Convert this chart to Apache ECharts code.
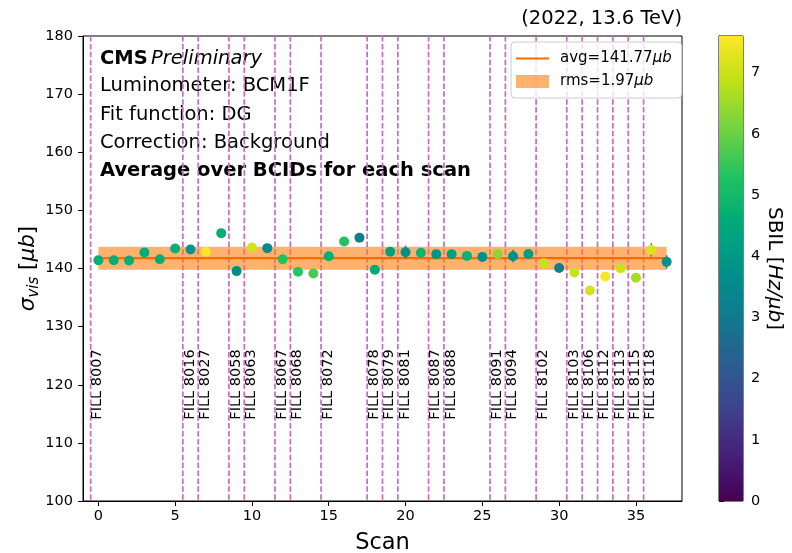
<!DOCTYPE html>
<html>
<head>
<meta charset="utf-8">
<script src="https://cdn.jsdelivr.net/npm/echarts@6/dist/echarts.min.js"></script>
<style>
  html, body { margin: 0; padding: 0; background: #ffffff; }
  #chart { width: 792px; height: 553px; }
</style>
</head>
<body>
<div id="chart"></div>
<script>
// Per-scan visible cross-section (BCM1F, DG fit, background corrected), averaged over BCIDs
const scanIndex = [0, 1, 2, 3, 4, 5, 6, 7, 8, 9,
  10, 11, 12, 13, 14, 15, 16, 17, 18, 19,
  20, 21, 22, 23, 24, 25, 26, 27, 28, 29,
  30, 31, 32, 33, 34, 35, 36, 37];
const sigmaVis = [141.43, 141.43, 141.38, 142.76, 141.60, 143.44, 143.27, 142.90, 146.08, 139.55,
  143.60, 143.50, 141.60, 139.43, 139.14, 142.12, 144.64, 145.30, 139.80, 142.90,
  142.80, 142.70, 142.47, 142.47, 142.17, 142.00, 142.50, 142.12, 142.50, 140.90,
  140.10, 139.30, 136.20, 138.63, 140.06, 138.40, 143.20, 141.14];
const sigmaErr = [0.5, 0.5, 0.5, 0.5, 0.5, 0.5, 0.5, 0.5, 0.5, 0.5,
  0.5, 0.5, 0.5, 0.5, 0.5, 0.5, 0.5, 0.5, 0.5, 0.5,
  1.15, 0.5, 0.5, 0.5, 0.5, 0.5, 0.5, 1.1, 0.5, 0.5,
  0.5, 0.5, 0.5, 0.5, 0.5, 0.5, 1.15, 1.15];
// Single-bunch instantaneous luminosity [Hz/ub]
const sbil = [4.7, 4.7, 4.7, 4.6, 4.7, 4.7, 3.9, 7.6, 4.7, 3.6,
  7.1, 3.6, 5.3, 5.4, 5.7, 4.7, 5.3, 3.2, 4.6, 4.2,
  3.8, 4.8, 3.9, 4.3, 4.8, 3.7, 6.3, 3.8, 4.1, 7.0,
  3.2, 7.0, 7.1, 7.5, 7.0, 6.6, 7.2, 3.8];

// Boundaries between LHC fills and the fill numbers
const fillBoundaries = [-0.5, 5.5, 6.5, 8.5, 9.5, 11.5, 12.5, 14.5, 17.5, 18.5, 19.5,
  21.5, 22.5, 25.5, 26.5, 28.5, 30.5, 31.5, 32.5, 33.5, 34.5, 35.5];
const fillNames = ['FILL 8007', 'FILL 8016', 'FILL 8027', 'FILL 8058', 'FILL 8063', 'FILL 8067',
  'FILL 8068', 'FILL 8072', 'FILL 8078', 'FILL 8079', 'FILL 8081', 'FILL 8087', 'FILL 8088',
  'FILL 8091', 'FILL 8094', 'FILL 8102', 'FILL 8103', 'FILL 8106', 'FILL 8112', 'FILL 8113',
  'FILL 8115', 'FILL 8118'];

// Summary statistics
const avgSigma = 141.77;
const rmsSigma = 1.97;
const bandRange = [0, 37];

// Axis ticks
const xTickValues = [0, 5, 10, 15, 20, 25, 30, 35];
const cbTickValues = [0, 1, 2, 3, 4, 5, 6, 7];
const cbMax = 7.6;

// Colour map for SBIL
const viridis = ['#440154', '#47207a', '#3d438c', '#2a5f90', '#107a8f', '#00928a',
  '#00aa78', '#22c260', '#72d341', '#bde017', '#fde725'];

const FONT = 'DejaVu Sans';
const X_MIN = -1, X_MAX = 38, Y_MIN = 100, Y_MAX = 180;
const FILL_LABEL_Y = 114;

const chart = echarts.init(document.getElementById('chart'), null, { renderer: 'canvas' });

const pointData = scanIndex.map((x, i) => [x, sigmaVis[i], sbil[i]]);
const errData = scanIndex.map((x, i) => [x, sigmaVis[i], sigmaErr[i]]);

const option = {
  animation: false,
  backgroundColor: '#ffffff',
  textStyle: { fontFamily: FONT, color: '#000' },
  title: {
    text: '(2022, 13.6 TeV)',
    right: 105,
    top: 4,
    textStyle: { fontFamily: FONT, fontSize: 19.5, fontWeight: 'normal', color: '#000' }
  },
  legend: {
    orient: 'vertical',
    left: 511,
    top: 42,
    padding: [9, 10, 9, 5],
    itemGap: 8,
    itemWidth: 33,
    itemHeight: 13,
    selectedMode: false,
    borderColor: '#cccccc',
    borderWidth: 1,
    borderRadius: 4,
    backgroundColor: 'rgba(255,255,255,0.8)',
    data: [
      { name: 'avg', icon: 'path://M0,0 L33,0 L33,2.2 L0,2.2 Z' },
      { name: 'rms', icon: 'rect' }
    ],
    formatter: function (name) {
      const v = name === 'avg' ? avgSigma : rmsSigma;
      return name + '=' + v.toFixed(2) + '{i|\u03bcb}';
    },
    textStyle: {
      fontFamily: FONT, fontSize: 15, color: '#000', padding: [0, 0, 0, 6],
      rich: { i: { fontFamily: FONT, fontSize: 15, fontStyle: 'italic', color: '#000' } }
    }
  },
  grid: [
    { left: 83, right: 110, top: 36, bottom: 52, outerBoundsMode: 'none', containLabel: false,
      show: true, borderColor: '#000', borderWidth: 1, backgroundColor: 'transparent' },
    { left: 719, width: 24, top: 36, bottom: 52, outerBoundsMode: 'none', containLabel: false,
      show: true, borderColor: '#000', borderWidth: 1, backgroundColor: 'transparent' }
  ],
  xAxis: [
    {
      type: 'value', gridIndex: 0, min: X_MIN, max: X_MAX,
      name: 'Scan', nameLocation: 'middle', nameGap: 31,
      nameTextStyle: { fontFamily: FONT, fontSize: 22.5, color: '#000' },
      axisLine: { show: true, onZero: false, lineStyle: { color: '#000', width: 1 } },
      axisTick: { show: true, inside: false, length: 5, customValues: xTickValues, lineStyle: { color: '#000' } },
      axisLabel: { show: true, customValues: xTickValues, fontFamily: FONT, fontSize: 14.5, color: '#000', margin: 8 },
      splitLine: { show: false }
    },
    { type: 'value', gridIndex: 1, min: 0, max: 1, show: false }
  ],
  yAxis: [
    {
      type: 'value', gridIndex: 0, min: Y_MIN, max: Y_MAX, interval: 10,
      name: '{i|\u03c3}{sub|vis} [{i|\u03bcb}]', nameLocation: 'middle', nameGap: 41, nameRotate: 90,
      nameMoveOverlap: false,
      nameTextStyle: {
        fontFamily: FONT, fontSize: 21.5, color: '#000',
        rich: {
          i: { fontFamily: FONT, fontSize: 21.5, fontStyle: 'italic', color: '#000', lineHeight: 27, verticalAlign: 'middle' },
          sub: { fontFamily: FONT, fontSize: 15, fontStyle: 'italic', color: '#000', lineHeight: 27, verticalAlign: 'bottom' }
        }
      },
      axisLine: { show: true, onZero: false, lineStyle: { color: '#000', width: 1 } },
      axisTick: { show: true, inside: false, length: 5, lineStyle: { color: '#000' } },
      axisLabel: { fontFamily: FONT, fontSize: 14.5, color: '#000', margin: 10 },
      splitLine: { show: false }
    },
    {
      type: 'value', gridIndex: 1, min: 0, max: cbMax, position: 'right',
      name: 'SBIL [{i|Hz/\u03bcb}]', nameLocation: 'middle', nameGap: 21, nameRotate: -90,
      nameTextStyle: {
        fontFamily: FONT, fontSize: 20, color: '#000',
        rich: { i: { fontFamily: FONT, fontSize: 20, fontStyle: 'italic', color: '#000' } }
      },
      axisLine: { show: true, lineStyle: { color: '#000', width: 1 } },
      axisTick: { show: true, inside: false, length: 5, customValues: cbTickValues, lineStyle: { color: '#000' } },
      axisLabel: { customValues: cbTickValues, fontFamily: FONT, fontSize: 14.5, color: '#000', margin: 8 },
      splitLine: { show: false }
    }
  ],
  visualMap: {
    type: 'continuous',
    show: false,
    dimension: 2,
    min: 0,
    max: cbMax,
    seriesIndex: 4,
    inRange: { color: viridis }
  },
  graphic: [
    {
      type: 'text', left: 100, top: 49,
      style: {
        text: '{b|CMS} {i|Preliminary}',
        rich: {
          b: { fontFamily: FONT, fontSize: 19.5, fontWeight: 'bold', fill: '#000' },
          i: { fontFamily: FONT, fontSize: 19.5, fontStyle: 'italic', fill: '#000' }
        }
      }
    },
    { type: 'text', left: 100, top: 76, style: { text: 'Luminometer: BCM1F', fontFamily: FONT, fontSize: 19.5, fill: '#000' } },
    { type: 'text', left: 100, top: 105, style: { text: 'Fit function: DG', fontFamily: FONT, fontSize: 19.5, fill: '#000' } },
    { type: 'text', left: 100, top: 133, style: { text: 'Correction: Background', fontFamily: FONT, fontSize: 19.5, fill: '#000' } },
    { type: 'text', left: 100, top: 161, style: { text: 'Average over BCIDs for each scan', fontFamily: FONT, fontSize: 19.5, fontWeight: 'bold', fill: '#000' } }
  ],
  series: [
    {
      // dashed fill boundaries with rotated fill numbers
      name: 'fills',
      type: 'custom',
      xAxisIndex: 0, yAxisIndex: 0,
      silent: true,
      z: 1,
      data: fillBoundaries.map(x => [x]),
      renderItem: function (params, api) {
        const x = api.value(0);
        const top = api.coord([x, Y_MAX]);
        const bot = api.coord([x, Y_MIN]);
        const anchor = api.coord([x, FILL_LABEL_Y]);
        return {
          type: 'group',
          children: [
            {
              type: 'line',
              shape: { x1: top[0], y1: top[1], x2: bot[0], y2: bot[1] },
              style: { stroke: '#c96aca', lineWidth: 1.7, lineDash: [5.5, 2.4] }
            },
            {
              type: 'text',
              x: anchor[0] - 0.5,
              y: anchor[1],
              rotation: Math.PI / 2,
              style: {
                text: fillNames[params.dataIndex],
                fontFamily: FONT, fontSize: 14.5, fill: '#000',
                align: 'left', verticalAlign: 'top'
              }
            }
          ]
        };
      }
    },
    {
      name: 'rms',
      type: 'custom',
      xAxisIndex: 0, yAxisIndex: 0,
      silent: true,
      z: 2,
      itemStyle: { color: 'rgba(255,127,14,0.6)' },
      data: [bandRange],
      renderItem: function (params, api) {
        const p1 = api.coord([api.value(0), avgSigma + rmsSigma]);
        const p2 = api.coord([api.value(1), avgSigma - rmsSigma]);
        return {
          type: 'rect',
          shape: { x: p1[0], y: p1[1], width: p2[0] - p1[0], height: p2[1] - p1[1] },
          style: { fill: 'rgba(255,127,14,0.6)' }
        };
      }
    },
    {
      name: 'avg',
      type: 'line',
      xAxisIndex: 0, yAxisIndex: 0,
      silent: true,
      z: 3,
      symbol: 'none',
      lineStyle: { color: '#ff6a00', width: 2.2 },
      itemStyle: { color: '#ff6a00' },
      data: bandRange.map(x => [x, avgSigma])
    },
    {
      name: 'errors',
      type: 'custom',
      xAxisIndex: 0, yAxisIndex: 0,
      silent: true,
      z: 4,
      data: errData,
      renderItem: function (params, api) {
        const x = api.value(0), y = api.value(1), e = api.value(2);
        const a = api.coord([x, y - e]);
        const b = api.coord([x, y + e]);
        return {
          type: 'line',
          shape: { x1: a[0], y1: a[1], x2: b[0], y2: b[1] },
          style: { stroke: '#5a6a78', lineWidth: 1.5 }
        };
      }
    },
    {
      name: 'scans',
      type: 'scatter',
      xAxisIndex: 0, yAxisIndex: 0,
      z: 5,
      symbol: 'circle',
      symbolSize: 10,
      itemStyle: { opacity: 1 },
      emphasis: { disabled: true },
      data: pointData
    },
    {
      // colour bar
      name: 'colorbar',
      type: 'custom',
      xAxisIndex: 1, yAxisIndex: 1,
      silent: true,
      data: [[0, 1]],
      renderItem: function (params, api) {
        const p1 = api.coord([api.value(0), cbMax]);
        const p2 = api.coord([api.value(1), 0]);
        const stops = viridis.map((c, i) => ({ offset: i / (viridis.length - 1), color: c }));
        return {
          type: 'rect',
          shape: { x: p1[0], y: p1[1], width: p2[0] - p1[0], height: p2[1] - p1[1] },
          style: { fill: new echarts.graphic.LinearGradient(0, 1, 0, 0, stops) }
        };
      }
    }
  ]
};

chart.setOption(option);
</script>
</body>
</html>
